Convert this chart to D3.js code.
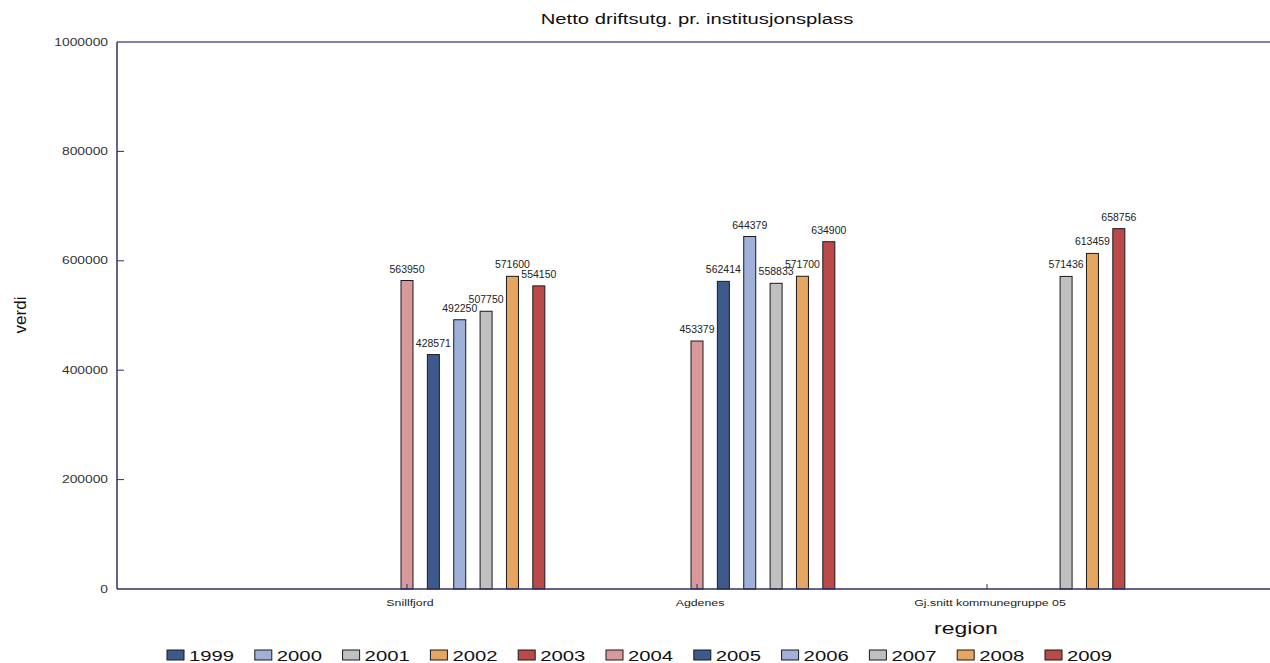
<!DOCTYPE html>
<html>
<head>
<meta charset="utf-8">
<script src="https://cdn.jsdelivr.net/npm/d3@7"></script>
<style>
  html, body { margin: 0; padding: 0; background: #fff; }
  svg { display: block; font-family: "Liberation Sans", Arial, sans-serif; }
</style>
</head>
<body>
<svg id="chart" width="1270" height="663"></svg>
<script>
// ---- data ----
const categories = ["Snillfjord", "Agdenes", "Gj.snitt kommunegruppe 05"];
const years = ["1999", "2000", "2001", "2002", "2003", "2004", "2005", "2006", "2007", "2008", "2009"];
const v1999 = [null, null, null];
const v2000 = [null, null, null];
const v2001 = [null, null, null];
const v2002 = [null, null, null];
const v2003 = [null, null, null];
const v2004 = [563950, 453379, null];
const v2005 = [428571, 562414, null];
const v2006 = [492250, 644379, null];
const v2007 = [507750, 558833, 571436];
const v2008 = [571600, 571700, 613459];
const v2009 = [554150, 634900, 658756];
const seriesValues = [v1999, v2000, v2001, v2002, v2003, v2004, v2005, v2006, v2007, v2008, v2009];
const yTicks = [0, 200000, 400000, 600000, 800000, 1000000];
const seriesColors = ["#3e5a8c", "#9fb1d8", "#c0c0c0", "#e6a560", "#b94a49", "#d9999c",
                      "#3e5a8c", "#9fb1d8", "#c0c0c0", "#e6a560", "#b94a49"];
const title = "Netto driftsutg. pr. institusjonsplass";
const xTitle = "region";
const yTitle = "verdi";

// ---- layout ----
const svg = d3.select("#chart");
const L = 117, R = 1277, T = 42, B = 589;
const axisColor = "#2f2f6a";

const x = d3.scalePoint().domain(categories).range([L, R]).padding(1);
const step = x.step();
const x1 = d3.scaleBand().domain(years).range([-step / 2, step / 2]);
const y = d3.scaleLinear().domain([0, 1000000]).range([B, T]);
const color = d3.scaleOrdinal().domain(years).range(seriesColors);
const barW = 12;

function stretchedText(sel, px, py, sx) {
  sel.attr("transform", `translate(${px},${py}) scale(${sx},1)`);
  return sel;
}

// title
stretchedText(svg.append("text"), (L + R) / 2, 24, 1.35)
  .attr("text-anchor", "middle").attr("font-size", 15).attr("fill", "#111").text(title);

// frame
svg.append("line").attr("x1", L).attr("x2", R).attr("y1", T).attr("y2", T)
  .attr("stroke", axisColor).attr("stroke-width", 1.5).attr("opacity", 0.8);
svg.append("line").attr("x1", L).attr("x2", L).attr("y1", T).attr("y2", B)
  .attr("stroke", axisColor).attr("stroke-width", 1.5);

// y ticks
yTicks.forEach(t => {
  if (t > 0 && t < 1000000) {
    svg.append("line").attr("x1", L).attr("x2", L + 7).attr("y1", y(t)).attr("y2", y(t))
      .attr("stroke", axisColor).attr("stroke-width", 1);
  }
  stretchedText(svg.append("text"), 108, y(t) + 3.5, 1.38)
    .attr("text-anchor", "end").attr("font-size", 10).attr("fill", "#333").text(t);
});

// y title
svg.append("text").attr("transform", `translate(26,315) rotate(-90)`)
  .attr("text-anchor", "middle").attr("font-size", 17).attr("fill", "#111").text(yTitle);

// bars
const barData = [];
years.forEach((yr, i) => {
  seriesValues[i].forEach((v, j) => {
    if (v !== null) barData.push({ year: yr, cat: categories[j], value: v });
  });
});
const cx = d => x(d.cat) + x1(d.year) + x1.bandwidth() / 2;

svg.append("g").selectAll("rect").data(barData).join("rect")
  .attr("x", d => cx(d) - barW / 2)
  .attr("y", d => y(d.value))
  .attr("width", barW)
  .attr("height", d => B - y(d.value))
  .attr("fill", d => color(d.year))
  .attr("stroke", "#1a1a1a").attr("stroke-width", 1);

// value labels
const lg = svg.append("g");
barData.forEach(d => {
  stretchedText(lg.append("text"), cx(d), y(d.value) - 8, 1.05)
    .attr("text-anchor", "middle").attr("font-size", 10).attr("fill", "#222").text(d.value);
});

// bottom axis
svg.append("line").attr("x1", L).attr("x2", R).attr("y1", B).attr("y2", B)
  .attr("stroke", axisColor).attr("stroke-width", 1.5);
categories.forEach(c => {
  svg.append("line").attr("x1", x(c)).attr("x2", x(c)).attr("y1", B).attr("y2", B - 5)
    .attr("stroke", axisColor).attr("stroke-width", 1);
  stretchedText(svg.append("text"), x(c) + 3, 606, 1.3)
    .attr("text-anchor", "middle").attr("font-size", 9.5).attr("fill", "#222").text(c);
});

// x title
stretchedText(svg.append("text"), 966, 634, 1.35)
  .attr("text-anchor", "middle").attr("font-size", 17).attr("fill", "#111").text(xTitle);

// legend
const legX = d3.scalePoint().domain(years).range([167, 1045]);
years.forEach(yr => {
  const lx = legX(yr);
  svg.append("rect").attr("x", lx).attr("y", 650).attr("width", 17).attr("height", 10)
    .attr("fill", color(yr)).attr("stroke", "#1a1a1a").attr("stroke-width", 1);
  stretchedText(svg.append("text"), lx + 22, 661, 1.45)
    .attr("font-size", 14).attr("fill", "#111").text(yr);
});
</script>
</body>
</html>
